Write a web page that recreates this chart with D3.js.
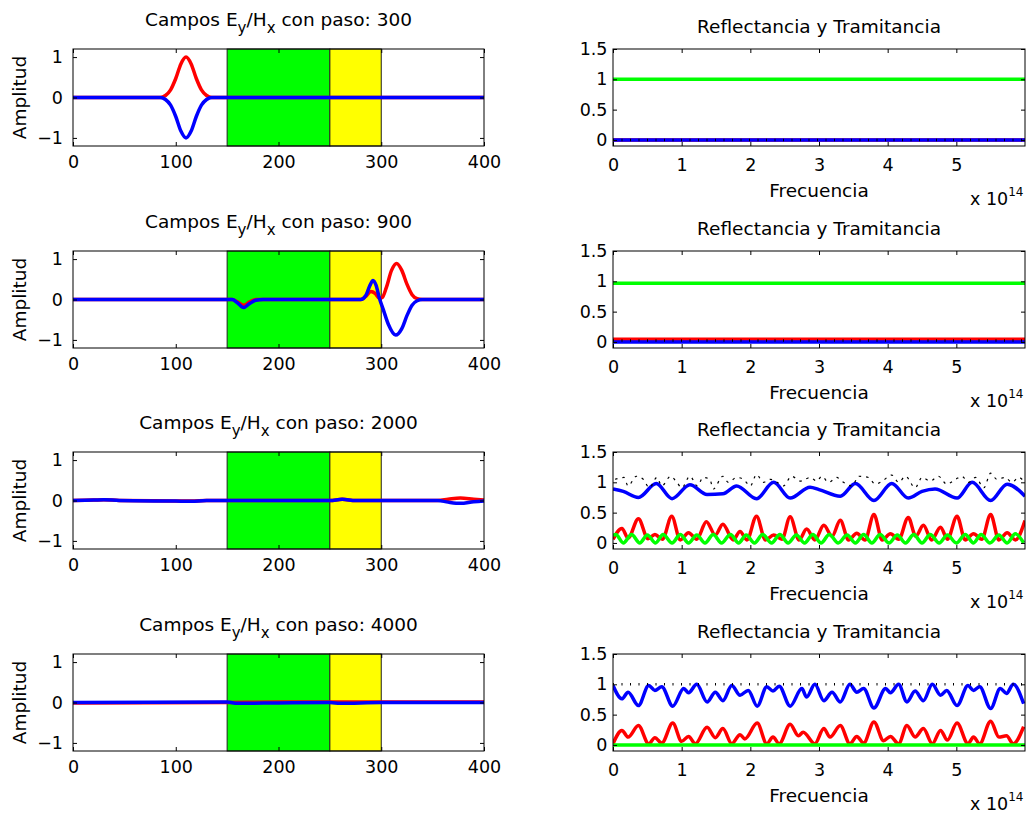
<!DOCTYPE html>
<html>
<head>
<meta charset="utf-8">
<script src="https://cdn.jsdelivr.net/npm/d3@7"></script>
<style>
  body { margin: 0; background: #fff; }
  svg { display: block; }
</style>
</head>
<body>
<script>
// pasos de tiempo de cada fila
var steps = [300, 900, 2000, 4000];

// ticks
var posTicks = [0, 100, 200, 300, 400];
var ampTicks = [-1, 0, 1];
var freqTicks = [0, 1, 2, 3, 4, 5];
var rtTicks = [0, 0.5, 1, 1.5];

// capas (verde y amarilla)
var slabStart = [150, 250];
var slabEnd = [250, 300];

// campos Ey (rojo) y Hx (azul) por paso
var ey300 = [[0,0],[85,0],[90,0.05],[95,0.19],[100,0.47],[105,0.83],[110,1],[115,0.83],[120,0.47],[125,0.19],[130,0.05],[135,0],[400,0]];
var hx300 = [[0,0],[85,0],[90,-0.05],[95,-0.19],[100,-0.47],[105,-0.83],[110,-1],[115,-0.83],[120,-0.47],[125,-0.19],[130,-0.05],[135,0],[400,0]];

var ey900 = [[0,0],[155,0],[160,-0.06],[166,-0.14],[172,-0.06],[178,0],[280,0],[285,0.08],[290,0.2],[294,0.15],[298,0.03],[301,0.05],[305,0.3],[310,0.72],[315,0.89],[320,0.72],[325,0.38],[330,0.12],[335,0.02],[340,0],[400,0]];
var hx900 = [[0,0],[155,0],[160,-0.08],[166,-0.2],[172,-0.1],[178,-0.02],[185,0],[280,0],[285,0.1],[289,0.35],[292,0.47],[295,0.35],[298,0.05],[302,-0.25],[307,-0.62],[314,-0.88],[320,-0.72],[325,-0.4],[330,-0.14],[335,-0.03],[340,0],[400,0]];

var ey2000 = [[0,0],[20,0.01],[30,0.02],[45,0],[100,-0.01],[115,-0.015],[130,0],[250,0],[262,0.03],[275,0],[355,0],[365,0.03],[377,0.06],[390,0.03],[400,0.01]];
var hx2000 = [[0,0],[20,0.01],[30,0.02],[45,0],[100,-0.015],[115,-0.02],[130,0],[250,0],[262,0.03],[275,0],[355,0],[365,-0.04],[377,-0.07],[390,-0.03],[400,-0.01]];

var ey4000 = [[0,-0.01],[150,0],[200,0.01],[300,0.01],[400,0.01]];
var hx4000 = [[0,0],[150,0.01],[160,-0.02],[200,-0.01],[250,0],[260,-0.02],[300,0],[400,0]];

// espectros: rojo, azul, verde y suma (punteada)
var red300 = [[0,0],[6,0]];
var blue300 = [[0,0],[6,0]];
var green300 = [[0,1],[6,1]];
var sum300 = [[0,0],[6,0]];

var red900 = [[0,0.045],[6,0.045]];
var blue900 = [[0,0],[6,0]];
var green900 = [[0,0.97],[6,0.97]];
var sum900 = [[0,0.025],[6,0.025]];

var red2000 = [[0,0.06],[0.13,0.24],[0.22,0.08],[0.37,0.40],[0.51,0.07],[0.61,0.14],[0.72,0.06],[0.855,0.44],[0.98,0.05],[1.10,0.17],[1.22,0.06],[1.36,0.35],[1.49,0.13],[1.60,0.31],[1.75,0.05],[1.85,0.19],[1.95,0.05],[2.09,0.44],[2.22,0.05],[2.34,0.13],[2.46,0.06],[2.58,0.43],[2.71,0.05],[2.82,0.23],[2.94,0.05],[3.07,0.29],[3.19,0.11],[3.31,0.375],[3.43,0.05],[3.55,0.16],[3.67,0.05],[3.80,0.47],[3.92,0.05],[4.04,0.15],[4.16,0.06],[4.30,0.42],[4.41,0.11],[4.52,0.29],[4.64,0.05],[4.77,0.26],[4.87,0.06],[5.01,0.44],[5.13,0.05],[5.25,0.15],[5.37,0.06],[5.50,0.47],[5.62,0.05],[5.74,0.17],[5.86,0.05],[6.0,0.37]];
var blue2000 = [[0,0.89],[0.15,0.85],[0.37,0.75],[0.63,0.98],[0.86,0.73],[1.12,0.96],[1.37,0.80],[1.6,0.81],[1.8,0.94],[2.09,0.73],[2.34,1.0],[2.58,0.74],[2.87,0.92],[3.0,0.88],[3.31,0.77],[3.53,0.98],[3.80,0.70],[4.06,0.98],[4.30,0.74],[4.5,0.85],[4.69,0.89],[5.01,0.74],[5.23,1.0],[5.50,0.70],[5.74,0.97],[6.0,0.77]];
var green2000 = [[0,0.12],[0.04,0.14],[0.15,0],[0.27,0.14],[0.39,0],[0.50,0.13],[0.62,0],[0.73,0.14],[0.86,0],[0.98,0.14],[1.10,0],[1.22,0.13],[1.34,0],[1.46,0.14],[1.58,0],[1.71,0.14],[1.83,0],[1.94,0.13],[2.06,0],[2.18,0.14],[2.31,0],[2.43,0.14],[2.55,0],[2.67,0.13],[2.79,0],[2.91,0.14],[3.03,0],[3.15,0.14],[3.28,0],[3.41,0.13],[3.53,0],[3.65,0.14],[3.77,0],[3.89,0.14],[4.02,0],[4.14,0.13],[4.26,0],[4.38,0.14],[4.50,0],[4.62,0.14],[4.75,0],[4.87,0.13],[5.0,0],[5.13,0.14],[5.25,0],[5.36,0.14],[5.49,0],[5.62,0.13],[5.74,0],[5.86,0.15],[5.98,0]];
var sum2000 = [[0.03,1.05],[0.16,1.08],[0.22,0.94],[0.34,1.10],[0.44,1.05],[0.53,0.91],[0.64,1.08],[0.71,0.94],[0.84,1.10],[0.93,1.0],[1.0,0.91],[1.12,1.10],[1.23,0.94],[1.31,1.08],[1.41,1.05],[1.46,0.89],[1.60,1.10],[1.68,1.0],[1.80,1.08],[1.90,1.05],[2.0,0.94],[2.09,1.13],[2.19,1.0],[2.29,1.05],[2.39,1.0],[2.48,0.94],[2.60,1.10],[2.73,1.02],[2.87,1.08],[2.97,1.02],[3.04,1.10],[3.14,1.0],[3.26,1.08],[3.33,1.02],[3.48,0.94],[3.58,1.10],[3.72,1.08],[3.82,0.97],[3.92,1.02],[4.06,1.12],[4.16,1.0],[4.26,1.10],[4.40,0.91],[4.50,1.08],[4.62,1.02],[4.74,1.10],[4.86,0.97],[4.99,1.05],[5.08,1.10],[5.18,1.0],[5.28,1.08],[5.40,0.91],[5.50,1.15],[5.59,1.05],[5.71,1.08],[5.81,1.0],[5.91,1.08],[5.98,1.02]];

var red4000 = [[0,0.02],[0.13,0.24],[0.22,0.13],[0.37,0.32],[0.52,0.02],[0.61,0.12],[0.71,0.03],[0.87,0.36],[1.00,0.06],[1.10,0.14],[1.20,0.02],[1.37,0.29],[1.49,0.12],[1.60,0.27],[1.73,0.02],[1.85,0.17],[1.92,0.10],[2.10,0.36],[2.24,0.02],[2.33,0.13],[2.42,0.02],[2.58,0.34],[2.70,0.15],[2.77,0.21],[2.94,0.02],[3.07,0.27],[3.16,0.13],[3.31,0.32],[3.45,0.02],[3.55,0.14],[3.65,0.03],[3.80,0.38],[3.94,0.07],[4.04,0.14],[4.16,0.02],[4.28,0.32],[4.40,0.13],[4.52,0.27],[4.65,0.02],[4.77,0.24],[4.87,0.08],[5.01,0.36],[5.17,0.02],[5.25,0.13],[5.34,0.02],[5.50,0.39],[5.62,0.13],[5.73,0.15],[5.83,0.02],[5.98,0.30]];
var blue4000 = [[0,0.98],[0.13,0.76],[0.22,0.87],[0.37,0.65],[0.52,0.98],[0.61,0.90],[0.71,0.96],[0.87,0.64],[1.03,0.93],[1.10,0.86],[1.22,1.0],[1.37,0.71],[1.49,0.87],[1.60,0.73],[1.73,0.98],[1.85,0.82],[1.97,0.90],[2.10,0.64],[2.24,0.96],[2.33,0.89],[2.42,0.97],[2.58,0.64],[2.75,0.93],[2.82,0.79],[2.94,1.0],[3.07,0.73],[3.19,0.87],[3.31,0.71],[3.45,1.0],[3.55,0.87],[3.65,0.93],[3.80,0.61],[3.97,0.93],[4.04,0.86],[4.16,1.0],[4.28,0.71],[4.40,0.89],[4.52,0.73],[4.65,1.0],[4.77,0.82],[4.86,0.90],[5.01,0.65],[5.17,0.98],[5.25,0.90],[5.34,0.96],[5.50,0.60],[5.64,0.93],[5.73,0.85],[5.83,1.0],[5.98,0.68]];
var green4000 = [[0,0],[6,0]];
var sum4000 = [[0,1],[6,1]];

var fields = [[ey300, hx300], [ey900, hx900], [ey2000, hx2000], [ey4000, hx4000]];
var spectra = [
  [red300, blue300, green300, sum300],
  [red900, blue900, green900, sum900],
  [red2000, blue2000, green2000, sum2000],
  [red4000, blue4000, green4000, sum4000]
];

const font = '"DejaVu Sans", sans-serif';
const rowTop = [49, 251, 452, 654];
const boxH = 97;

const svg = d3.select("body").append("svg")
  .attr("width", 1027)
  .attr("height", 814);

function minusFmt(d) { return d < 0 ? "\u2212" + (-d) : String(d); }

// marco tipo matlab: caja y ticks hacia adentro en los cuatro lados
function drawFrame(g, x, y, xt, yt, xPad, yPad) {
  const top = y.range()[1], bottom = y.range()[0];
  const l = x.range()[0], r = x.range()[1];

  g.append("rect")
    .attr("x", l).attr("y", top)
    .attr("width", r - l).attr("height", bottom - top)
    .attr("fill", "none").attr("stroke", "#000").attr("stroke-width", 1);

  const axes = [
    g.append("g").attr("transform", "translate(0," + bottom + ")")
      .call(d3.axisBottom(x).tickValues(xt).tickSize(-4).tickSizeOuter(0).tickPadding(xPad).tickFormat(minusFmt)),
    g.append("g").attr("transform", "translate(0," + top + ")")
      .call(d3.axisTop(x).tickValues(xt).tickSize(-4).tickSizeOuter(0).tickFormat(() => "")),
    g.append("g").attr("transform", "translate(" + l + ",0)")
      .call(d3.axisLeft(y).tickValues(yt).tickSize(-4).tickSizeOuter(0).tickPadding(yPad).tickFormat(minusFmt)),
    g.append("g").attr("transform", "translate(" + r + ",0)")
      .call(d3.axisRight(y).tickValues(yt).tickSize(-4).tickSizeOuter(0).tickFormat(() => ""))
  ];
  axes.forEach(a => {
    a.select(".domain").remove();
    a.attr("font-family", font).attr("font-size", 17.5);
    a.selectAll("text").attr("fill", "#000");
  });
}

// paneles de campos (izquierda)
rowTop.forEach((top, i) => {
  const g = svg.append("g");
  const x = d3.scaleLinear().domain([0, 400]).range([73, 484]);
  const y = d3.scaleLinear().domain([-1.2, 1.2]).range([top + boxH, top]);

  // capas
  const colors = ["#00ff00", "#ffff00"];
  slabStart.forEach((s, k) => {
    g.append("rect")
      .attr("x", x(s)).attr("y", top)
      .attr("width", x(slabEnd[k]) - x(s)).attr("height", boxH)
      .attr("fill", colors[k])
      .attr("stroke", "#222").attr("stroke-width", 1);
  });

  const line = d3.line().x(d => x(d[0])).y(d => y(d[1])).curve(d3.curveMonotoneX);
  const lineColors = ["#ff0000", "#0000ff"];
  fields[i].forEach((ser, k) => {
    g.append("path").datum(ser)
      .attr("d", line)
      .attr("fill", "none")
      .attr("stroke", lineColors[k])
      .attr("stroke-width", 3.5)
      .attr("stroke-linejoin", "round");
  });

  drawFrame(g, x, y, posTicks, ampTicks, 9.5, 10);

  // titulo con subindices
  const t = g.append("text")
    .attr("x", 278.5).attr("y", top - 23)
    .attr("text-anchor", "middle")
    .attr("font-family", font).attr("font-size", 18.5);
  t.append("tspan").text("Campos E");
  t.append("tspan").attr("font-size", 15).attr("dy", 7).text("y");
  t.append("tspan").attr("dy", -7).text("/H");
  t.append("tspan").attr("font-size", 15).attr("dy", 7).text("x");
  t.append("tspan").attr("dy", -7).text(" con paso: " + steps[i]);

  g.append("text")
    .attr("transform", "translate(26," + (top + boxH / 2) + ") rotate(-90)")
    .attr("text-anchor", "middle")
    .attr("font-family", font).attr("font-size", 18.5)
    .text("Amplitud");
});

// paneles de reflectancia / tramitancia (derecha)
rowTop.forEach((top, i) => {
  const g = svg.append("g");
  const x = d3.scaleLinear().domain([0, 6]).range([613, 1025]);
  const y = d3.scaleLinear().domain([-0.1, 1.5]).range([top + boxH, top]);
  const bottom = top + boxH;

  const line = d3.line().x(d => x(d[0])).y(d => y(d[1])).curve(d3.curveMonotoneX);
  const clipId = "clip" + i;
  g.append("clipPath").attr("id", clipId)
    .append("rect").attr("x", 613).attr("y", top).attr("width", 412).attr("height", boxH);

  const plot = g.append("g").attr("clip-path", "url(#" + clipId + ")");
  const specColors = ["#ff0000", "#0000ff", "#00ff00"];
  spectra[i].slice(0, 3).forEach((ser, k) => {
    plot.append("path").datum(ser)
      .attr("d", line)
      .attr("fill", "none")
      .attr("stroke", specColors[k])
      .attr("stroke-width", 3.5)
      .attr("stroke-linejoin", "round");
  });
  // suma, linea punteada
  plot.append("path").datum(spectra[i][3])
    .attr("d", i == 2 ? line : d3.line().x(d => x(d[0])).y(d => y(d[1])))
    .attr("fill", "none")
    .attr("stroke", "#000")
    .attr("stroke-width", i == 2 ? 1.2 : 2.5)
    .attr("stroke-dasharray", i == 2 ? "2.5,5" : "1,7.5");

  drawFrame(g, x, y, freqTicks, rtTicks, 12.5, 5.5);

  g.append("text")
    .attr("x", 819).attr("y", top - 16)
    .attr("text-anchor", "middle")
    .attr("font-family", font).attr("font-size", 18.5)
    .text("Reflectancia y Tramitancia");

  g.append("text")
    .attr("x", 819).attr("y", bottom + 51)
    .attr("text-anchor", "middle")
    .attr("font-family", font).attr("font-size", 18.5)
    .text("Frecuencia");

  const e = g.append("text")
    .attr("x", 970).attr("y", bottom + 59)
    .attr("font-family", font).attr("font-size", 17.5);
  e.append("tspan").text("x 10");
  e.append("tspan").attr("font-size", 12).attr("dy", -9).text("14");
});
</script>
</body>
</html>
